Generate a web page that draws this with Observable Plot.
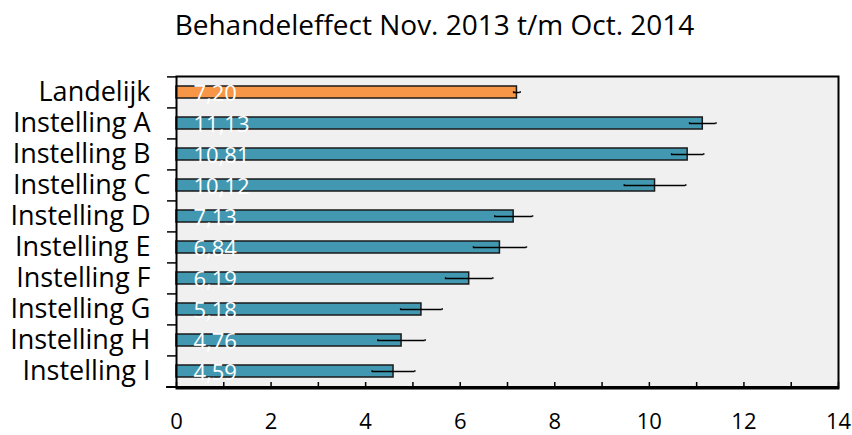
<!DOCTYPE html>
<html>
<head>
<meta charset="utf-8">
<script src="https://cdn.jsdelivr.net/npm/d3@7"></script>
<script src="https://cdn.jsdelivr.net/npm/@observablehq/plot@0.6"></script>
<style>
  body { margin: 0; background: #fff; font-family: "Open Sans", sans-serif; }
  #title { width: 852px; height: 60px; box-sizing: border-box; padding-top: 10px; padding-left: 17px;
           text-align: center; font-size: 28px; line-height: 28px; color: #000; white-space: nowrap; }
</style>
</head>
<body>
<div id="title">Behandeleffect Nov. 2013 t/m Oct. 2014</div>
<div id="chart"></div>
<script>
const categories = ["Landelijk", "Instelling A", "Instelling B", "Instelling C", "Instelling D",
                    "Instelling E", "Instelling F", "Instelling G", "Instelling H", "Instelling I"];
const values = [7.20, 11.13, 10.81, 10.12, 7.13, 6.84, 6.19, 5.18, 4.76, 4.59];
const errors = [0.07, 0.28, 0.34, 0.65, 0.40, 0.56, 0.50, 0.44, 0.50, 0.45];
const xTickLabels = [0, 2, 4, 6, 8, 10, 12, 14];
const xMinorTicks = d3.range(0, 15, 1);

const data = categories.map((c, i) => ({
  cat: c, value: values[i], lo: values[i] - errors[i], hi: values[i] + errors[i],
  label: values[i].toFixed(2).replace(".", ","), national: i === 0
}));

const H = 375, mTop = 16, mBottom = 47, pad = 0.6;
const step = (H - mTop - mBottom) / categories.length;
const half = step / 2;
const capInset = (step * (1 - pad)) / 2 + 0.5;
const fmt = d => d.toFixed(0);
const lastCat = categories[categories.length - 1];

const chart = Plot.plot({
  width: 852, height: H,
  marginTop: mTop, marginBottom: mBottom, marginLeft: 176, marginRight: 14,
  style: { fontFamily: "'Open Sans', sans-serif", background: "transparent", color: "#000" },
  x: { domain: [0, 14] },
  y: { domain: categories, paddingInner: pad, paddingOuter: pad / 2, label: null },
  marks: [
    Plot.frame({ fill: "#F0F0F0", stroke: "none" }),
    Plot.axisX({ ticks: xMinorTicks, tickSize: -6, tickFormat: () => "", stroke: "#000", strokeWidth: 1.5, label: null }),
    Plot.axisX({ ticks: xTickLabels, tickSize: 0, tickPadding: 25, tickFormat: fmt, fontSize: 22, label: null }),
    Plot.axisY({ tickSize: 0, tickPadding: 26, fontSize: 27, label: null }),
    Plot.ruleY(data, { y: "cat", dy: -half, x1: -0.19, x2: 0, stroke: "#000", strokeWidth: 1.5 }),
    Plot.barX(data, { y: "cat", x: "value", fill: d => d.national ? "#F79646" : "#4298B0", stroke: "#1a1a1a", strokeWidth: 1.5 }),
    Plot.ruleY(data, { y: "cat", x1: "lo", x2: "hi", stroke: "#000", strokeWidth: 1.5 }),
    Plot.tickX(data, { y: "cat", x: "lo", insetTop: capInset, insetBottom: capInset, stroke: "#000", strokeWidth: 1.5 }),
    Plot.tickX(data, { y: "cat", x: "hi", insetTop: capInset, insetBottom: capInset, stroke: "#000", strokeWidth: 1.5 }),
    Plot.text(data, { y: "cat", x: 0, dx: 17, dy: 1, text: "label", textAnchor: "start", fill: "#fff", fontSize: 22 }),
    Plot.frame({ stroke: "#000", strokeWidth: 2 }),
    Plot.ruleY([lastCat], { y: d => d, dy: half, x1: -0.21, x2: 14, stroke: "#000", strokeWidth: 2 })
  ]
});
document.getElementById("chart").appendChild(chart);
</script>
</body>
</html>
